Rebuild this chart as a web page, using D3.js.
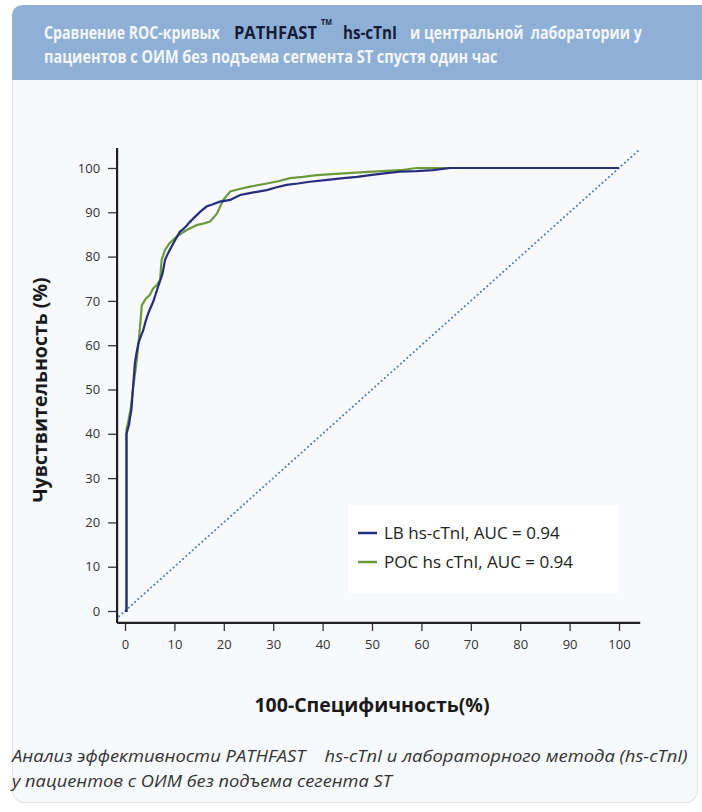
<!DOCTYPE html>
<html><head><meta charset="utf-8">
<script src="https://cdn.jsdelivr.net/npm/d3@7"></script>
<style>
body{margin:0;background:#ffffff;}
svg{display:block;}
</style></head>
<body><svg id="c" width="702" height="812"></svg>
<script>
// ---- data ----
const xTicks = [0,10,20,30,40,50,60,70,80,90,100];
const yTicks = [0,10,20,30,40,50,60,70,80,90,100];
const lbFpr = [0,0.3,0.3,0.8,1.0,1.3,1.6,2.0,2.3,2.7,3.2,3.7,4.2,4.7,5.2,5.7,6.2,6.7,7.1,7.6,8.1,8.6,9.2,9.8,10.4,11.1,11.8,12.5,13.2,14.0,15.2,16.5,17.8,19.2,21.3,23.3,25.5,28.7,30.5,32.7,35,37.4,41,44.2,47,49.6,52.5,55.7,59,62.3,65.8,100];
const lbTpr = [0,0,40,42,43.5,45.4,50,55.9,58,60.4,62,63.4,65.5,67.2,68.5,69.8,71.5,73.2,74.5,76.2,79.2,80.5,81.8,83,84.2,85.6,86.2,87,87.9,88.8,90.1,91.3,91.8,92.4,92.8,93.9,94.4,95,95.6,96.2,96.5,96.9,97.3,97.7,98,98.4,98.8,99.2,99.3,99.5,100,100];
const pocFpr = [0,0.3,0.3,0.7,1.2,1.6,2.2,2.7,3.1,3.4,4.2,5.0,5.7,6.4,7.1,7.4,8.1,9.0,10.5,11.5,12.5,14.5,16,17.2,18.6,19.9,21.3,23,25.3,28.7,31,33.4,36,38.8,44.2,50.2,55.7,59,100];
const pocTpr = [0,0,41,43,46,50,55,60,65,69,70.5,71.3,72.8,73.5,74.7,79.2,81.5,83,84.5,85.3,86,87.1,87.5,87.9,89.7,92.8,94.7,95.2,95.8,96.5,97,97.7,98,98.4,98.8,99.2,99.5,100,100];
const refLine = [-1.2, 104];
const seriesNames = ["LB hs-cTnI, AUC = 0.94", "POC hs cTnI, AUC = 0.94"];
const seriesColors = ["#252d7c", "#6b9a3b"];

const svg = d3.select("#c");

// card
svg.append("rect").attr("x",12.5).attr("y",5.5).attr("width",685).attr("height",797)
  .attr("rx",12).attr("fill","#f8f9fd").attr("stroke","#e2e4e8").attr("stroke-width",1.2);
// header band
svg.append("path").attr("d","M12,80 L12,17 Q12,5 24,5 L702,5 L702,80 Z").attr("fill","#8fb0d6");

const af = "'Open Sans','Noto Sans',sans-serif";
// text squeezed horizontally to a target width
function fit(x,y,str,w,fill,size,weight,style){
  const g = svg.append("g");
  const t = g.append("text").attr("x",0).attr("y",0).text(str).attr("xml:space","preserve")
    .attr("font-family",af).attr("font-weight",weight||"normal").attr("font-style",style||"normal")
    .attr("font-size",size).attr("fill",fill);
  const n = t.node().getComputedTextLength();
  g.attr("transform",`translate(${x},${y}) scale(${w/n},1)`);
  return t;
}
fit(44,39,"Сравнение ROC-кривых",176,"#f3f6fb",17,"bold");
fit(234,39,"PATHFAST",83,"#141c38",18,"bold");
fit(321,25,"TM",11,"#141c38",8,"bold");
fit(343,39,"hs-cTnI",54,"#141c38",18,"bold");
fit(410,39,"и центральной  лаборатории у",232,"#f3f6fb",17,"bold");
fit(44,63,"пациентов с ОИМ без подъема сегмента ST спустя один час",454,"#f3f6fb",17,"bold");

// scales
const x = d3.scaleLinear().domain([0,100]).range([125,619]);
const y = d3.scaleLinear().domain([0,100]).range([611,168]);

// axes
const gx = svg.append("g").attr("transform",`translate(0,${y(-2.7)})`)
  .call(d3.axisBottom(x).tickValues(xTicks).tickSize(8).tickPadding(9));
const gy = svg.append("g").attr("transform",`translate(${x(-1.6)},0)`)
  .call(d3.axisLeft(y).tickValues(yTicks).tickSize(9).tickPadding(8));
[gx,gy].forEach(g=>{
  g.select(".domain").remove();
  g.selectAll(".tick line").attr("stroke","#333").attr("stroke-width",1.3);
  g.selectAll(".tick text").attr("font-family",af).attr("font-size",13).attr("fill","#333");
});
svg.append("line").attr("x1",x(-1.6)).attr("x2",x(104.3)).attr("y1",y(-2.7)).attr("y2",y(-2.7))
  .attr("stroke","#222").attr("stroke-width",2.2);
svg.append("line").attr("x1",x(-1.6)).attr("x2",x(-1.6)).attr("y1",y(-2.7)).attr("y2",y(104.5))
  .attr("stroke","#222").attr("stroke-width",2.2);

// diagonal
svg.append("line").attr("x1",x(refLine[0])).attr("y1",y(refLine[0])).attr("x2",x(refLine[1])).attr("y2",y(refLine[1]))
  .attr("stroke","#4d80b8").attr("stroke-width",2).attr("stroke-dasharray","0.1,4.2").attr("stroke-linecap","round");

const line = d3.line().x(d=>x(d[0])).y(d=>y(d[1]));
const lb = lbFpr.map((v,i)=>[v,lbTpr[i]]);
const poc = pocFpr.map((v,i)=>[v,pocTpr[i]]);
svg.append("path").datum(poc).attr("d",line).attr("fill","none").attr("stroke",seriesColors[1]).attr("stroke-width",2.2);
svg.append("path").datum(lb).attr("d",line).attr("fill","none").attr("stroke",seriesColors[0]).attr("stroke-width",2.2);

// legend
svg.append("rect").attr("x",348).attr("y",505).attr("width",270).attr("height",88).attr("fill","#ffffff");
seriesNames.forEach((n,i)=>{
  const yy = 533 + i*29;
  svg.append("line").attr("x1",358).attr("x2",377).attr("y1",yy).attr("y2",yy).attr("stroke",seriesColors[i]).attr("stroke-width",2.5);
  svg.append("text").attr("x",384).attr("y",yy+6).text(n).attr("font-family",af).attr("font-size",17).attr("fill","#222");
});

// axis titles
svg.append("text").attr("transform",`translate(47,${390}) rotate(-90)`).attr("text-anchor","middle")
  .text("Чувствительность (%)").attr("font-family",af).attr("font-weight","bold").attr("font-size",19.5).attr("fill","#1a1a1a");
svg.append("text").attr("x",372).attr("y",712).attr("text-anchor","middle")
  .text("100-Специфичность(%)").attr("font-family",af).attr("font-weight","bold").attr("font-size",19.5).attr("fill","#1a1a1a");

// caption
fit(12,762,"Анализ эффективности PATHFAST    hs-cTnI и лабораторного метода (hs-cTnI)",676,"#333",16.5,"normal","italic");
fit(12,787,"у пациентов с ОИМ без подъема сегента ST",380,"#333",16.5,"normal","italic");
</script></body></html>
